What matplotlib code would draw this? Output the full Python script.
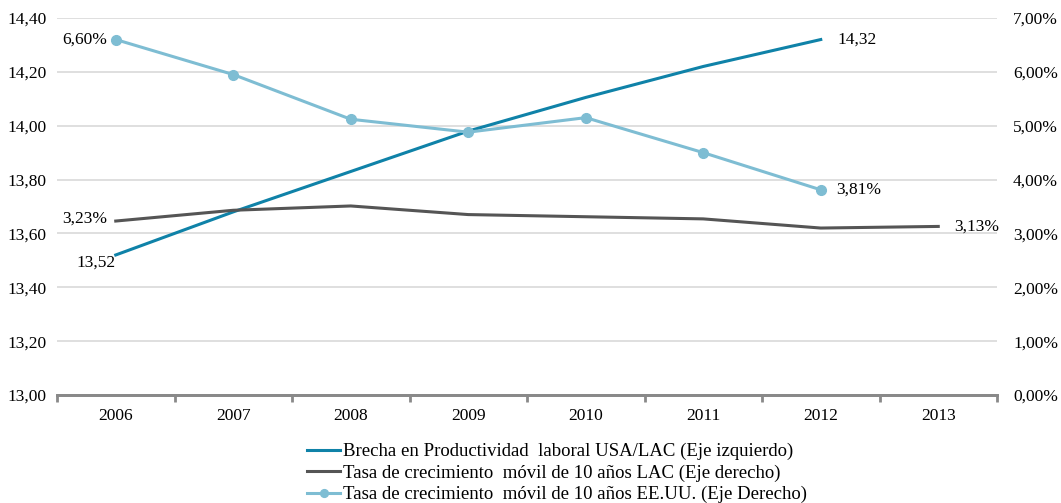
import matplotlib.pyplot as plt
from matplotlib.ticker import FuncFormatter, FixedLocator

plt.rcParams['font.family'] = ['Liberation Serif', 'DejaVu Serif']

years = ["2006", "2007", "2008", "2009", "2010", "2011", "2012", "2013"]
brecha = [13.52, 13.68, 13.83, 13.98, 14.105, 14.22, 14.32]
lac = [3.23, 3.43, 3.51, 3.35, 3.31, 3.27, 3.10, 3.13]
eeuu = [6.60, 5.95, 5.12, 4.88, 5.15, 4.50, 3.81]

label_brecha = "Brecha en Productividad  laboral USA/LAC (Eje izquierdo)"
label_lac = "Tasa de crecimiento  móvil de 10 años LAC (Eje derecho)"
label_eeuu = "Tasa de crecimiento  móvil de 10 años EE.UU. (Eje Derecho)"

c_brecha = "#0F82A8"
c_lac = "#555555"
c_eeuu = "#7EBDD3"
fs = 12.5
fs_leg = 13.5

fig = plt.figure(figsize=(10.61, 5.03), dpi=100)
ax = fig.add_axes([57 / 1061, 1 - 395 / 503, 940 / 1061, 377 / 503])
ax2 = ax.twinx()

x = list(range(len(years)))

ax.set_ylim(13.0, 14.4)
ax.set_yticks([13.0 + 0.2 * i for i in range(8)])
ax.yaxis.set_major_formatter(FuncFormatter(lambda v, p: f"{v:.2f}".replace(".", ",")))
ax2.set_ylim(0, 7)
ax2.set_yticks(range(8))
ax2.yaxis.set_major_formatter(FuncFormatter(lambda v, p: f"{v:.2f}%".replace(".", ",")))

ax.set_xlim(-0.5, len(years) - 0.5)
ax.set_xticks(x)
ax.set_xticklabels(years)
ax.xaxis.set_minor_locator(FixedLocator([i - 0.5 for i in range(len(years) + 1)]))
ax.tick_params(axis="x", which="major", length=0, pad=9, labelsize=fs)
ax.tick_params(axis="x", which="minor", length=5, width=2, color="#898989")
ax.tick_params(axis="y", length=0, labelsize=fs, pad=7.5)
ax2.tick_params(axis="y", length=0, labelsize=fs, pad=11.5)

ax.grid(axis="y", color="#D9D9D9", linewidth=1.2)
ax.set_axisbelow(True)
for a in (ax, ax2):
    for s in ("top", "left", "right"):
        a.spines[s].set_visible(False)
    a.spines["bottom"].set_color("#898989")
    a.spines["bottom"].set_linewidth(2)

l1, = ax.plot(x[:len(brecha)], brecha, color=c_brecha, lw=2.2, label=label_brecha)
l2, = ax2.plot(x, lac, color=c_lac, lw=2.2, label=label_lac)
l3, = ax2.plot(x[:len(eeuu)], eeuu, color=c_eeuu, lw=2.2, marker="o", ms=7,
               label=label_eeuu)

def fmt(v, pct=False):
    s = f"{v:.2f}".replace(".", ",")
    return s + "%" if pct else s

ax2.annotate(fmt(eeuu[0], True), (x[0], eeuu[0]), xytext=(-6.5, 0),
             textcoords="offset points", ha="right", va="center", fontsize=fs)
ax2.annotate(fmt(lac[0], True), (x[0], lac[0]), xytext=(-6.5, 1.5),
             textcoords="offset points", ha="right", va="center", fontsize=fs)
ax.annotate(fmt(brecha[0]), (x[0], brecha[0]), xytext=(0, -5.5),
            textcoords="offset points", ha="right", va="center", fontsize=fs)
ax.annotate(fmt(brecha[-1]), (x[len(brecha) - 1], brecha[-1]), xytext=(12, 0),
            textcoords="offset points", ha="left", va="center", fontsize=fs)
ax2.annotate(fmt(eeuu[-1], True), (x[len(eeuu) - 1], eeuu[-1]), xytext=(11, 0),
             textcoords="offset points", ha="left", va="center", fontsize=fs)
ax2.annotate(fmt(lac[-1], True), (x[-1], lac[-1]), xytext=(11.5, 0),
             textcoords="offset points", ha="left", va="center", fontsize=fs)

fig.legend(handles=[l1, l2, l3], loc="upper left",
           bbox_to_anchor=(307 / 1061, 1 - 443 / 503), frameon=False,
           fontsize=fs_leg, handlelength=1.76, handletextpad=0.16,
           labelspacing=0.22, borderaxespad=0, borderpad=0, markerscale=0.8)

fig.savefig("out.png", dpi=100)
